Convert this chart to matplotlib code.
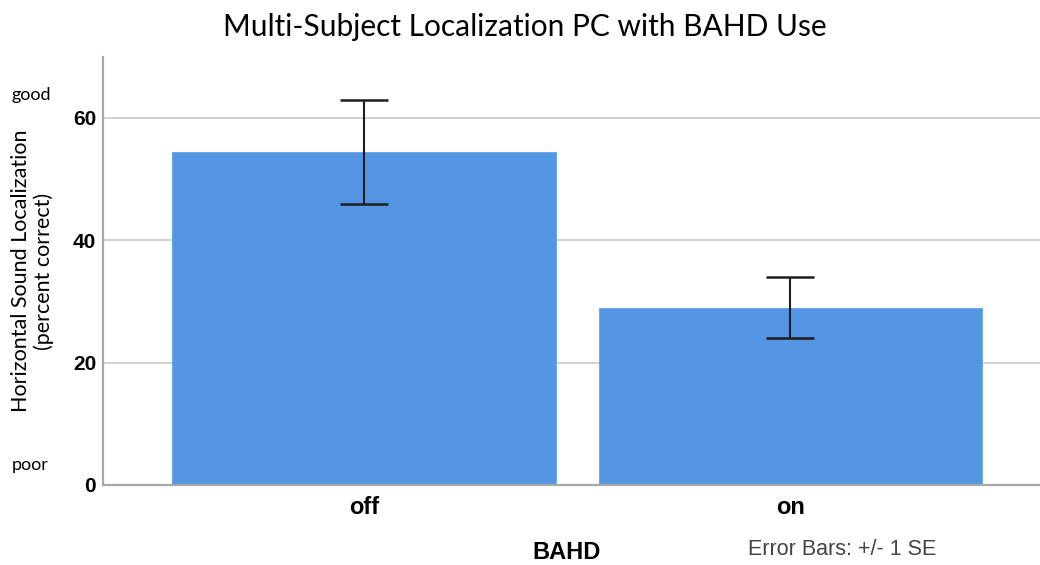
import matplotlib.pyplot as plt

categories = ["off", "on"]
means = [54.5, 29.0]
se = [8.5, 5.05]
yticks = [0, 20, 40, 60]

fig = plt.figure(figsize=(10.4, 5.65), dpi=100)
ax = fig.add_axes([0.099, 0.1416, 0.901, 0.758])

x = range(len(categories))
ax.bar(x, means, width=0.9, color="#5596e4", edgecolor="#6ea6e8", linewidth=0.8, zorder=2)
ax.errorbar(x, means, yerr=se, fmt="none", ecolor="#1e1e1e", elinewidth=1.5,
            capsize=17, capthick=1.8, zorder=3)

ax.set_xlim(-0.612, 1.585)
ax.set_ylim(0, 70)
ax.set_yticks(yticks)
ax.set_yticklabels([str(t) for t in yticks], fontfamily="Liberation Sans",
                   fontweight="bold", fontsize=15)
ax.set_xticks(list(x))
ax.set_xticklabels(categories, fontfamily="Liberation Sans", fontweight="bold", fontsize=17)
ax.tick_params(length=0, pad=5)
ax.tick_params(axis="x", pad=8)
ax.yaxis.grid(True, color="#c8c8c8", linewidth=1.2, zorder=0)
ax.set_axisbelow(True)
for side in ["top", "right"]:
    ax.spines[side].set_visible(False)
for side in ["left", "bottom"]:
    ax.spines[side].set_color("#a8a8a8")
    ax.spines[side].set_linewidth(1.6)

fig.text(0.505, 0.953, "Multi-Subject Localization PC with BAHD Use", ha="center",
         va="center", fontsize=21.5, fontfamily="Lato")
fig.text(0.031, 0.52, "Horizontal Sound Localization\n(percent correct)", rotation=90,
         ha="center", va="center", fontsize=15.5, fontfamily="Lato", linespacing=1.15)
fig.text(0.011, 0.832, "good", ha="left", va="center", fontsize=13, fontfamily="Lato")
fig.text(0.011, 0.177, "poor", ha="left", va="center", fontsize=13, fontfamily="Lato")
fig.text(0.545, 0.023, "BAHD", ha="center", va="center", fontsize=17,
         fontfamily="Liberation Sans", fontweight="bold")
fig.text(0.81, 0.027, "Error Bars: +/- 1 SE", ha="center", va="center", fontsize=15.5,
         fontfamily="Liberation Sans", color="#444444")

fig.savefig("out.png", dpi=100)
